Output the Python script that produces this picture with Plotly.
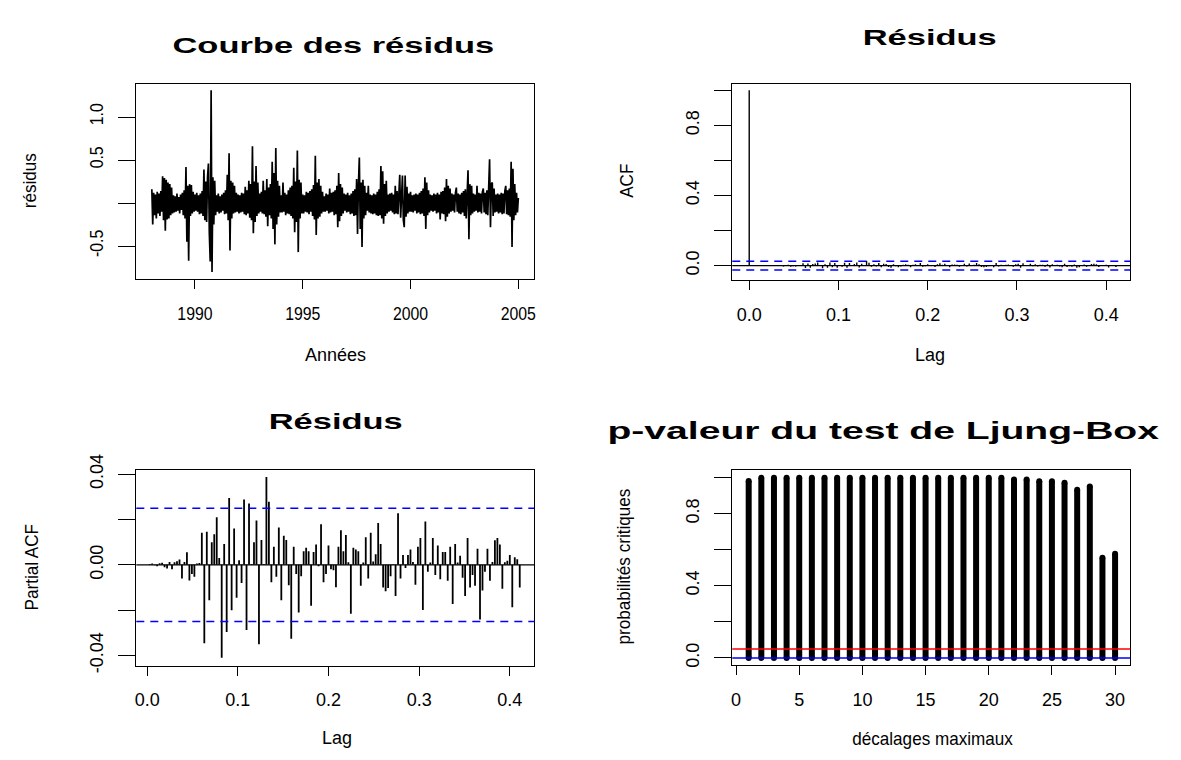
import numpy as np
import plotly.graph_objects as go

# ---------------- data ----------------
# residual series, 24 observations per year starting in 1988
start_year = 1988
obs_per_year = 24
res_1988 = [0.16, -0.25, 0.12, -0.14, 0.10, -0.18, 0.13, -0.12, 0.11, -0.15, 0.14, -0.10,
            0.31, -0.20, 0.29, -0.32, 0.27, -0.19, 0.24, -0.18, 0.22, -0.14, 0.18, -0.12]
res_1989 = [0.09, -0.11, 0.08, -0.10, 0.11, -0.09, 0.07, -0.12, 0.10, -0.08, 0.12, -0.14,
            0.15, -0.18, 0.42, -0.45, 0.20, -0.67, 0.22, -0.15, 0.21, -0.12, 0.13, -0.10]
res_1990 = [0.10, -0.09, 0.12, -0.10, 0.09, -0.13, 0.11, -0.12, 0.14, -0.15, 0.39, -0.20,
            0.25, -0.22, 0.30, 0.46, -0.35, -0.68, 1.31, -0.80, 0.30, -0.25, 0.26, -0.14]
res_1991 = [0.09, -0.10, 0.11, -0.12, 0.08, -0.11, 0.10, -0.09, 0.12, -0.13, 0.15, -0.12,
            0.33, -0.20, 0.58, -0.55, 0.26, -0.18, 0.24, -0.12, 0.20, -0.11, 0.12, -0.10]
res_1992 = [0.10, -0.12, 0.09, -0.11, 0.12, -0.10, 0.11, -0.13, 0.19, -0.14, 0.15, -0.12,
            0.26, -0.17, 0.22, -0.20, 0.66, -0.35, 0.25, -0.22, 0.43, -0.15, 0.24, -0.12]
res_1993 = [0.11, -0.10, 0.13, -0.12, 0.26, -0.13, 0.15, -0.16, 0.28, -0.27, 0.18, -0.14,
            0.22, -0.18, 0.48, -0.30, 0.35, -0.48, 0.64, -0.25, 0.26, -0.16, 0.20, -0.11]
res_1994 = [0.09, -0.11, 0.24, -0.10, 0.12, -0.14, 0.10, -0.12, 0.15, -0.13, 0.18, -0.15,
            0.20, -0.18, 0.41, -0.34, 0.25, -0.22, 0.61, -0.57, 0.27, -0.18, 0.24, -0.12]
res_1995 = [0.10, -0.12, 0.09, -0.10, 0.13, -0.11, 0.12, -0.13, 0.14, -0.10, 0.16, -0.15,
            0.21, -0.19, 0.55, -0.37, 0.24, -0.18, 0.28, -0.16, 0.20, -0.12, 0.13, -0.10]
res_1996 = [0.08, -0.10, 0.11, -0.09, 0.10, -0.12, 0.17, -0.11, 0.12, -0.10, 0.13, -0.14,
            0.15, -0.13, 0.20, -0.28, 0.35, -0.21, 0.22, -0.15, 0.18, -0.12, 0.11, -0.09]
res_1997 = [0.10, -0.11, 0.12, -0.10, 0.09, -0.13, 0.11, -0.12, 0.14, -0.15, 0.16, -0.14,
            0.28, -0.36, 0.22, 0.53, -0.30, 0.24, -0.51, 0.27, -0.18, 0.20, -0.14, 0.12]
res_1998 = [-0.09, 0.20, -0.11, 0.10, -0.12, 0.09, -0.13, 0.11, -0.12, 0.10, -0.14, 0.13,
            -0.15, 0.16, -0.14, 0.43, -0.18, 0.37, -0.24, 0.22, -0.15, 0.26, -0.12, 0.10]
res_1999 = [-0.10, 0.11, -0.09, 0.12, -0.11, 0.10, -0.13, 0.20, -0.12, 0.14, -0.13, 0.15,
            0.33, -0.17, 0.18, 0.32, -0.20, -0.28, 0.32, -0.16, 0.19, -0.12, 0.11, -0.10]
res_2000 = [0.13, -0.10, 0.09, -0.11, 0.10, -0.09, 0.11, -0.12, 0.10, -0.11, 0.12, -0.13,
            0.14, -0.12, 0.17, -0.15, 0.30, -0.30, 0.24, -0.14, 0.15, -0.11, 0.10, -0.09]
res_2001 = [0.09, -0.10, 0.11, -0.09, 0.10, -0.12, 0.12, -0.11, 0.10, -0.19, 0.13, -0.12,
            0.14, -0.13, 0.18, -0.21, 0.28, -0.16, 0.20, -0.12, 0.17, -0.10, 0.11, -0.09]
res_2002 = [0.10, -0.11, 0.12, 0.18, -0.10, 0.11, -0.12, 0.10, -0.13, 0.12, -0.11, 0.14,
            -0.15, 0.16, -0.18, 0.20, 0.38, -0.42, 0.22, -0.14, 0.20, -0.12, 0.11, -0.10]
res_2003 = [0.10, -0.09, 0.20, -0.11, 0.12, -0.10, 0.11, -0.12, 0.13, 0.17, -0.11, 0.12,
            -0.13, 0.15, -0.14, 0.18, 0.51, -0.28, 0.22, 0.24, -0.15, 0.17, -0.11, 0.10]
res_2004 = [-0.10, 0.11, -0.12, 0.10, -0.11, 0.12, -0.13, 0.11, -0.12, 0.14, 0.20, -0.13,
            0.15, -0.14, 0.17, -0.16, 0.48, -0.51, 0.40, -0.20, 0.22, -0.14, 0.12, -0.11]
res_2005 = [0.06]

# sample autocorrelations of the residuals, lags 0..150 (days)
acf_vals = [1.000,
            0.000, 0.001, -0.000, -0.001, 0.001, 0.001, -0.001, -0.002, 0.001, -0.002,
            0.001, 0.002, 0.002, -0.005, 0.001, 0.005, -0.006, -0.004, -0.005, 0.001,
            0.001, 0.013, -0.014, 0.012, -0.013, 0.009, 0.012, 0.018, 0.003, -0.015,
            0.008, -0.012, 0.017, -0.010, 0.014, -0.012, 0.002, -0.007, 0.016, -0.013,
            0.015, 0.001, 0.009, 0.017, -0.011, 0.010, 0.001, 0.028, 0.016, -0.006,
            0.007, -0.005, 0.014, -0.010, 0.011, 0.009, -0.008, -0.012, 0.007, -0.004,
            -0.010, -0.005, 0.005, 0.007, 0.005, -0.009, 0.005, 0.008, -0.001, 0.014,
            -0.006, -0.004, 0.007, -0.002, -0.002, -0.008, 0.007, 0.013, 0.005, 0.011,
            0.001, -0.010, 0.006, 0.006, 0.005, -0.007, 0.001, 0.010, -0.005, 0.012,
            0.001, 0.004, 0.014, 0.008, -0.008, -0.009, -0.008, -0.004, 0.000, -0.010,
            0.015, -0.005, 0.004, -0.001, 0.004, 0.006, 0.001, -0.007, 0.007, 0.010,
            -0.012, 0.013, -0.003, 0.001, 0.010, -0.004, 0.007, -0.005, 0.005, 0.005,
            -0.006, 0.007, -0.011, 0.008, 0.001, 0.004, -0.005, -0.009, 0.010, -0.008,
            -0.004, -0.007, 0.006, -0.012, -0.009, -0.003, 0.006, -0.006, 0.001, 0.009,
            0.010, 0.008, -0.008, 0.001, 0.002, 0.004, -0.011, 0.003, 0.002, -0.008]

# partial autocorrelations, lags 1..150 (days)
pacf_vals = [0.0004, 0.0006, -0.0002, -0.0006, 0.0007, 0.0009, -0.0011, -0.0016, 0.0012, -0.0019,
             0.0011, 0.0016, 0.0023, -0.0060, 0.0012, 0.0055, -0.0069, -0.0040, -0.0052, 0.0006,
             0.0008, 0.0142, -0.0346, 0.0146, -0.0156, 0.0100, 0.0135, 0.0210, 0.0030, -0.0410,
             0.0092, -0.0296, 0.0295, -0.0200, 0.0160, -0.0145, 0.0020, -0.0080, 0.0288, -0.0287,
             0.0270, 0.0004, 0.0100, 0.0196, -0.0350, 0.0110, 0.0004, 0.0387, 0.0278, -0.0077,
             0.0080, -0.0052, 0.0165, -0.0156, 0.0128, 0.0110, -0.0090, -0.0326, 0.0080, -0.0040,
             -0.0210, -0.0050, 0.0060, 0.0075, 0.0060, -0.0180, 0.0057, 0.0090, -0.0006, 0.0179,
             -0.0077, -0.0040, 0.0085, -0.0020, -0.0024, -0.0099, 0.0080, 0.0153, 0.0060, 0.0132,
             0.0011, -0.0216, 0.0075, 0.0068, 0.0060, -0.0092, 0.0010, 0.0122, -0.0060, 0.0142,
             0.0015, 0.0047, 0.0184, 0.0092, -0.0100, -0.0116, -0.0102, -0.0050, 0.0003, -0.0138,
             0.0227, -0.0060, 0.0043, -0.0014, 0.0043, 0.0068, 0.0012, -0.0088, 0.0080, 0.0118,
             -0.0199, 0.0191, -0.0030, 0.0010, 0.0118, -0.0045, 0.0085, -0.0064, 0.0057, 0.0057,
             -0.0070, 0.0080, -0.0173, 0.0092, 0.0010, 0.0040, -0.0057, -0.0138, 0.0118, -0.0100,
             -0.0045, -0.0092, 0.0071, -0.0241, -0.0113, -0.0030, 0.0071, -0.0070, 0.0012, 0.0108,
             0.0118, 0.0090, -0.0105, 0.0011, 0.0018, 0.0043, -0.0187, 0.0033, 0.0025, -0.0100]

days_per_year = 365
ci_bound = 0.025          # approximate 95% band for white noise

# Ljung-Box p-values for maximal lags 1..30
lb_lags = list(range(1, 31))
lb_pvalues = [0.981, 0.999, 0.999, 0.999, 0.999, 0.999, 0.999, 0.999, 0.999, 0.999,
              0.999, 0.999, 0.999, 0.999, 0.999, 0.999, 0.999, 0.999, 0.999, 0.999,
              0.999, 0.990, 0.990, 0.980, 0.980, 0.972, 0.933, 0.951, 0.556, 0.577]
lb_alpha = 0.05

# ---------------- geometry ----------------
W, H = 1181, 760
FONT = "Liberation Sans, Arial, sans-serif"
TICK_SIZE = 18
TICK_WIDTH = 0.88        # horizontal glyph scale of tick labels
LAB_SIZE = 18
TITLE_SIZE = 23


def xdom(a, b):
    return [a / W, b / W]


def ydom(top, bottom):
    return [1 - bottom / H, 1 - top / H]


def px(x):
    return x / W


def py(y):
    return 1 - y / H


def xaxis_style(dom, rng, vals, text):
    return dict(domain=dom, range=rng, tickvals=vals, ticktext=text,
                showline=True, mirror=True, linecolor="black", linewidth=1.3,
                ticks="outside", ticklen=9, tickwidth=1.3, tickcolor="black",
                ticklabelstandoff=9,
                showgrid=False, zeroline=False, fixedrange=True,
                tickfont=dict(family=FONT, size=TICK_SIZE, color="black"))


def yaxis_style(dom, rng, vals, text, anchor):
    return dict(domain=dom, range=rng, tickvals=vals, ticktext=text, anchor=anchor,
                showline=True, mirror=True, linecolor="black", linewidth=1.3,
                ticks="outside", ticklen=17, tickwidth=1.3, tickcolor="black",
                tickangle=-90, ticklabelstandoff=8,
                showgrid=False, zeroline=False, fixedrange=True,
                tickfont=dict(family=FONT, size=TICK_SIZE, color="black"))


def stems(xs, ys):
    sx, sy = [], []
    for a, b in zip(xs, ys):
        sx += [a, a, None]
        sy += [0, b, None]
    return sx, sy


fig = go.Figure()

# --- residual curve ---
residus = (res_1988 + res_1989 + res_1990 + res_1991 + res_1992 + res_1993 + res_1994
           + res_1995 + res_1996 + res_1997 + res_1998 + res_1999 + res_2000 + res_2001
           + res_2002 + res_2003 + res_2004 + res_2005)
t = start_year + np.arange(len(residus)) / obs_per_year
fig.add_trace(go.Scatter(x=t, y=residus, mode="lines",
                         line=dict(color="black", width=1.7),
                         xaxis="x", yaxis="y", hoverinfo="skip"))

# --- ACF ---
acf_lags = np.arange(len(acf_vals)) / days_per_year
ax, ay = stems(acf_lags, acf_vals)
fig.add_trace(go.Scatter(x=ax, y=ay, mode="lines", line=dict(color="black", width=1.4),
                         xaxis="x2", yaxis="y2", hoverinfo="skip"))

# --- PACF ---
pacf_lags = np.arange(1, len(pacf_vals) + 1) / days_per_year
qx, qy = stems(pacf_lags, pacf_vals)
fig.add_trace(go.Scatter(x=qx, y=qy, mode="lines", line=dict(color="black", width=1.8),
                         xaxis="x3", yaxis="y3", hoverinfo="skip"))

# --- Ljung-Box p-values ---
lx, ly = stems(lb_lags, lb_pvalues)
fig.add_trace(go.Scatter(x=lx, y=ly, mode="lines", line=dict(color="black", width=6),
                         xaxis="x4", yaxis="y4", hoverinfo="skip"))
fig.add_trace(go.Scatter(x=lb_lags + lb_lags, y=lb_pvalues + [0] * len(lb_lags),
                         mode="markers", marker=dict(color="black", size=6),
                         xaxis="x4", yaxis="y4", hoverinfo="skip"))

shapes = []
# zero lines and confidence bands
for xr, yr in (("x2", "y2"), ("x3", "y3")):
    shapes.append(dict(type="line", xref=f"{xr} domain", yref=yr, x0=0, x1=1, y0=0, y1=0,
                       line=dict(color="black", width=1.3)))
    for s in (ci_bound, -ci_bound):
        shapes.append(dict(type="line", xref=f"{xr} domain", yref=yr, x0=0, x1=1, y0=s, y1=s,
                           line=dict(color="#0000FF", width=1.5, dash="8px,6px")))
shapes.append(dict(type="line", xref="x4 domain", yref="y4", x0=0, x1=1, y0=lb_alpha, y1=lb_alpha,
                   line=dict(color="#FF0000", width=1.5)))
shapes.append(dict(type="line", xref="x4 domain", yref="y4", x0=0, x1=1, y0=0, y1=0,
                   line=dict(color="#0000FF", width=1.5)))

annotations = []
text_widths = []   # horizontal glyph scale for each annotation


def label(text, x, y, size, bold=False, angle=0, stretch=1.0):
    annotations.append(dict(text=f"<b>{text}</b>" if bold else text,
                            x=px(x), y=py(y), xref="paper", yref="paper",
                            xanchor="center", yanchor="middle", showarrow=False,
                            textangle=angle,
                            font=dict(family=FONT, size=size, color="black")))
    text_widths.append(stretch)


label("Courbe des résidus", 333, 30, TITLE_SIZE, bold=True, stretch=1.5)
label("Résidus", 932, 22, TITLE_SIZE, bold=True, stretch=1.5)
label("Résidus", 335, 418, TITLE_SIZE, bold=True, stretch=1.5)
label("p-valeur du test de Ljung-Box", 886, 428, TITLE_SIZE, bold=True, stretch=1.7)
label("Années", 335, 350, LAB_SIZE, stretch=1.0)
label("Lag", 933, 350, LAB_SIZE, stretch=1.0)
label("Lag", 337, 745, LAB_SIZE, stretch=1.0)
label("décalages maximaux", 935, 746, LAB_SIZE, stretch=0.95)
label("résidus", 28, 170, LAB_SIZE, angle=-90, stretch=0.95)
label("ACF", 628, 170, LAB_SIZE, angle=-90, stretch=0.95)
label("Partial ACF", 30, 568, LAB_SIZE, angle=-90, stretch=0.95)
label("probabilités critiques", 625, 568, LAB_SIZE, angle=-90, stretch=0.95)

fig.update_layout(
    width=W, height=H, margin=dict(l=0, r=0, t=0, b=0),
    paper_bgcolor="white", plot_bgcolor="white", showlegend=False,
    xaxis=xaxis_style(xdom(135, 535), [1987.28, 2005.74], [1990, 1995, 2000, 2005],
                      ["1990", "1995", "2000", "2005"]),
    yaxis=yaxis_style(ydom(70, 271), [-0.88, 1.385], [-0.5, 0, 0.5, 1.0],
                      ["-0.5", "", "0.5", "1.0"], "x"),
    xaxis2=xaxis_style(xdom(734, 1134), [-0.019, 0.427], [0, 0.1, 0.2, 0.3, 0.4],
                       ["0.0", "0.1", "0.2", "0.3", "0.4"]),
    yaxis2=yaxis_style(ydom(70, 272), [-0.081, 1.037], [0, 0.2, 0.4, 0.6, 0.8, 1.0],
                       ["0.0", "", "0.4", "", "0.8", ""], "x2"),
    xaxis3=xaxis_style(xdom(135, 535), [-0.012, 0.427], [0, 0.1, 0.2, 0.3, 0.4],
                       ["0.0", "0.1", "0.2", "0.3", "0.4"]),
    yaxis3=yaxis_style(ydom(468, 670), [-0.0445, 0.0419], [-0.04, -0.02, 0, 0.02, 0.04],
                       ["-0.04", "", "0.00", "", "0.04"], "x3"),
    xaxis4=xaxis_style(xdom(734, 1134), [-0.3, 31.2], [0, 5, 10, 15, 20, 25, 30],
                       ["0", "5", "10", "15", "20", "25", "30"]),
    yaxis4=yaxis_style(ydom(468, 669), [-0.038, 1.043], [0, 0.2, 0.4, 0.6, 0.8, 1.0],
                       ["0.0", "", "0.4", "", "0.8", ""], "x4"),
    shapes=shapes, annotations=annotations,
)
fig.update_layout(xaxis=dict(anchor="y"), xaxis2=dict(anchor="y2"),
                  xaxis3=dict(anchor="y3"), xaxis4=dict(anchor="y4"))

# scale glyphs along the text direction, around each label's centre
post_js = """
var annW = %s, tickW = %f;
function squeeze(t, f) {
  if (f === 1 || !t.textContent) return;
  var b = t.getBBox();
  var cx = b.x + b.width / 2, cy = b.y + b.height / 2;
  var tr = t.getAttribute('transform') || '';
  t.setAttribute('transform', tr + ' translate(' + cx + ',' + cy + ') scale(' + f + ',1) translate(' + (-cx) + ',' + (-cy) + ')');
}
document.querySelectorAll('g.annotation').forEach(function (g) {
  var i = parseInt(g.getAttribute('data-index'));
  var t = g.querySelector('text');
  if (t && !isNaN(i)) squeeze(t, annW[i]);
});
document.querySelectorAll('g.xtick text, g.ytick text').forEach(function (t) { squeeze(t, tickW); });
""" % (str(text_widths), TICK_WIDTH)

fig.write_html("out.html", post_script=post_js)
